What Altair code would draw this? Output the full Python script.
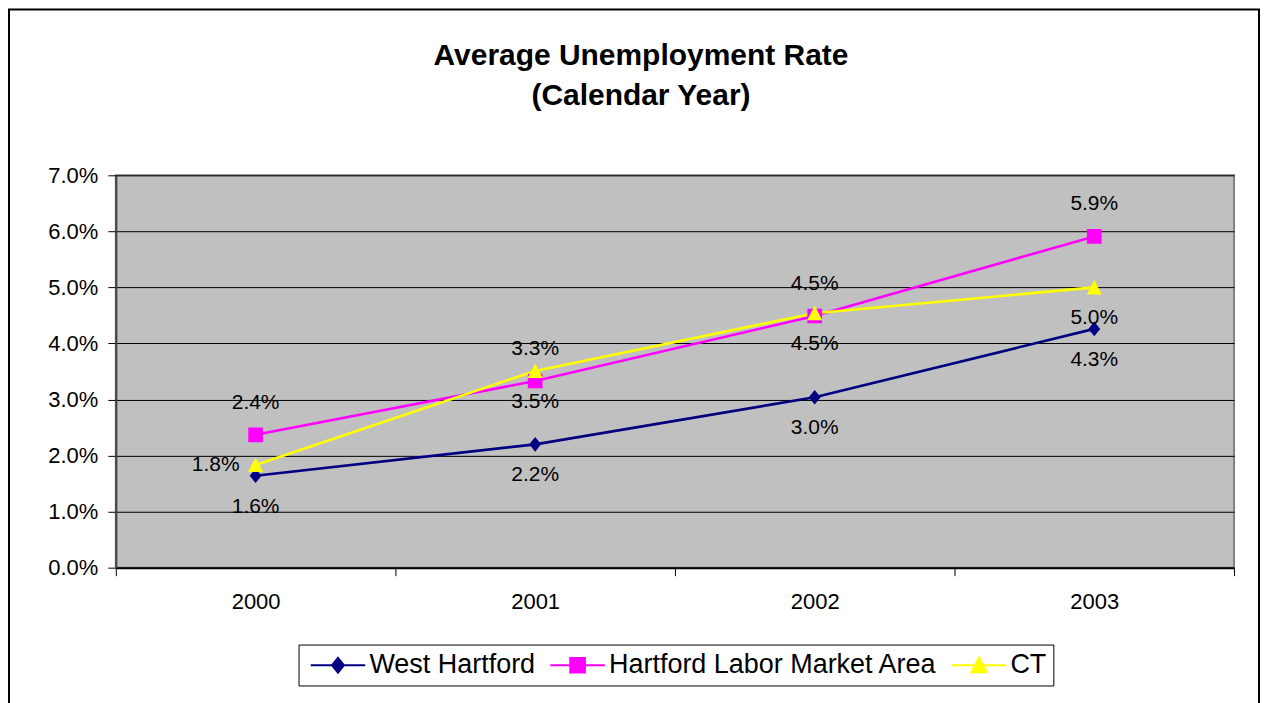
import altair as alt
import pandas as pd

years = ["2000", "2001", "2002", "2003"]
series = ["West Hartford", "Hartford Labor Market Area", "CT"]
west_hartford = [1.64, 2.20, 3.04, 4.26]
hartford_lma = [2.37, 3.33, 4.49, 5.91]
ct = [1.83, 3.51, 4.54, 5.00]
y_ticks = [0.0, 0.01, 0.02, 0.03, 0.04, 0.05, 0.06, 0.07]

colors = ["#000080", "#FF00FF", "#FFFF00"]
# marker paths with a horizontal stroke (only visible in the legend, where symbols are stroked)
shapes = [
    "M-3.9,0H3.9M0,-1.05L0.85,0L0,1.05L-0.85,0Z",
    "M-3.9,0H3.9M-1.05,-1.05H1.05V1.05H-1.05Z",
    "M-3.9,0H3.9M0,-1.1L1.08,1H-1.08Z",
]

rows = []
for name, vals in zip(series, [west_hartford, hartford_lma, ct]):
    for yr, v in zip(years, vals):
        rows.append({"Year": yr, "Series": name, "Rate": v / 100})
df = pd.DataFrame(rows)

FONT = "Liberation Sans"

x_enc = alt.X(
    "Year:O",
    title=None,
    scale=alt.Scale(type="band", paddingInner=0, paddingOuter=0),
    bandPosition=0.5,
    axis=alt.Axis(
        labelAngle=0, tickBand="extent", tickSize=8, tickColor="black",
        domainColor="black", domainWidth=2, labelFontSize=22, labelFont=FONT,
        labelColor="black", labelPadding=16, grid=False,
    ),
)
y_enc = alt.Y(
    "Rate:Q",
    title=None,
    scale=alt.Scale(domain=[0, 0.07], nice=False),
    axis=alt.Axis(
        values=y_ticks, format=".1%", tickSize=8, tickColor="black",
        domainColor="#404040", domainWidth=2, labelFontSize=22, labelFont=FONT,
        labelColor="black", labelPadding=10, grid=True, gridColor="black",
        gridWidth=1, gridOpacity=1,
    ),
)
color_scale = alt.Scale(domain=series, range=colors)
shape_scale = alt.Scale(domain=series, range=shapes)

legend = alt.Legend(
    title=None, orient="none", legendX=183, legendY=470, direction="horizontal",
    strokeColor="black", fillColor="white", padding=7, labelFont=FONT,
    labelFontSize=27, labelColor="black", labelLimit=0, symbolSize=196,
    symbolStrokeWidth=2, symbolOffset=19, labelOffset=18, columnPadding=9,
    symbolOpacity=1,
)

base = alt.Chart(df)

lines = base.mark_line(strokeWidth=2.6).encode(
    x=x_enc, y=y_enc,
    color=alt.Color("Series:N", scale=color_scale, legend=legend, sort=series),
)
points = base.mark_point(filled=True, size=196, opacity=1).encode(
    x=x_enc, y=y_enc,
    color=alt.Color("Series:N", scale=color_scale, legend=legend, sort=series),
    shape=alt.Shape("Series:N", scale=shape_scale, legend=legend, sort=series),
)

txt = dict(font=FONT, fontSize=21, color="black", align="center", baseline="middle")
label_enc = dict(x=x_enc, y=y_enc, text=alt.Text("Rate:Q", format=".1%"))

labels_above = base.mark_text(dy=-32, **txt).encode(**label_enc).transform_filter(
    alt.datum.Series == "Hartford Labor Market Area")
labels_below = base.mark_text(dy=31, **txt).encode(**label_enc).transform_filter(
    (alt.datum.Series == "West Hartford")
    | ((alt.datum.Series == "CT") & (alt.datum.Year != "2000")))
labels_left = base.mark_text(dx=-40, dy=0, **txt).encode(**label_enc).transform_filter(
    (alt.datum.Series == "CT") & (alt.datum.Year == "2000"))

border = alt.Chart(alt.Data(values=[{}])).mark_rect(
    fillOpacity=0, stroke="black", strokeWidth=2
).encode(
    x=alt.value(-107), x2=alt.value(1145), y=alt.value(-166), y2=alt.value(540)
)

chart = alt.layer(
    border, lines, points, labels_above, labels_below, labels_left
).properties(
    width=1120, height=393,
    title=alt.TitleParams(
        ["Average Unemployment Rate", "(Calendar Year)"], font=FONT,
        fontSize=30, fontWeight="bold", color="black", lineHeight=40,
        anchor="middle", offset=-103, dx=-34,
    ),
    padding=0,
    background="white",
).configure_view(
    fill="#C0C0C0", stroke="#808080", strokeWidth=2
)

chart.save("out.html", embed_options={"renderer": "svg", "actions": False})
